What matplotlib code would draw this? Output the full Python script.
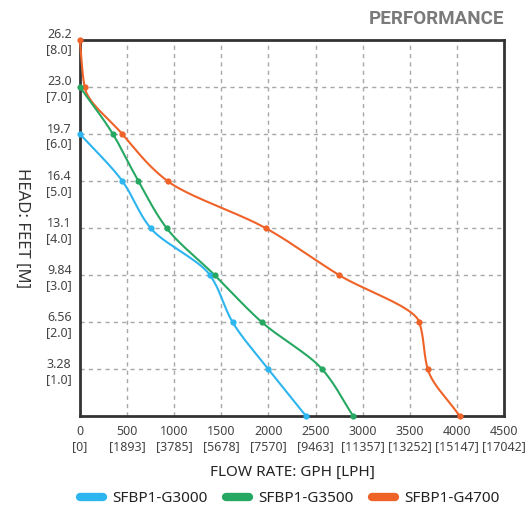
import numpy as np
import matplotlib
matplotlib.use("Agg")
import matplotlib.pyplot as plt
from matplotlib.lines import Line2D

plt.rcParams['font.family'] = ['Noto Sans', 'DejaVu Sans']

# data: flow (GPH) vs head (m)
series_names = ["SFBP1-G3000", "SFBP1-G3500", "SFBP1-G4700"]
colors = ["#2cb5ee", "#27a862", "#ef6228"]
g3000_flow = [0, 450, 750, 1380, 1620, 2000, 2400]
g3000_head = [6.0, 5.0, 4.0, 3.0, 2.0, 1.0, 0.0]
g3500_flow = [0, 350, 620, 920, 1430, 1930, 2570, 2900]
g3500_head = [7.0, 6.0, 5.0, 4.0, 3.0, 2.0, 1.0, 0.0]
g4700_flow = [0, 50, 450, 930, 1970, 2750, 3600, 3690, 4030]
g4700_head = [8.0, 7.0, 6.0, 5.0, 4.0, 3.0, 2.0, 1.0, 0.0]

x_ticks = [0, 500, 1000, 1500, 2000, 2500, 3000, 3500, 4000, 4500]
x_tick_labels = ["0\n[0]", "500\n[1893]", "1000\n[3785]", "1500\n[5678]", "2000\n[7570]",
                 "2500\n[9463]", "3000\n[11357]", "3500\n[13252]", "4000\n[15147]", "4500\n[17042]"]
y_ticks = [1, 2, 3, 4, 5, 6, 7, 8]
y_tick_labels = ["3.28\n[1.0]", "6.56\n[2.0]", "9.84\n[3.0]", "13.1\n[4.0]", "16.4\n[5.0]",
                 "19.7\n[6.0]", "23.0\n[7.0]", "26.2\n[8.0]"]


def pchip_x_of_y(xs, ys, n=40):
    # monotone cubic (Fritsch-Carlson) of flow as a function of head
    y = np.asarray(ys, float)[::-1]
    x = np.asarray(xs, float)[::-1]
    h = np.diff(y)
    d = np.diff(x) / h
    m = np.zeros_like(x)
    for k in range(1, len(x) - 1):
        if d[k - 1] * d[k] <= 0:
            m[k] = 0
        else:
            w1 = 2 * h[k] + h[k - 1]
            w2 = h[k] + 2 * h[k - 1]
            m[k] = (w1 + w2) / (w1 / d[k - 1] + w2 / d[k])
    m[0] = d[0]
    m[-1] = d[-1]
    X, Y = [], []
    for k in range(len(h)):
        t = np.linspace(0, 1, n)
        h00 = 2 * t**3 - 3 * t**2 + 1
        h10 = t**3 - 2 * t**2 + t
        h01 = -2 * t**3 + 3 * t**2
        h11 = t**3 - t**2
        xx = h00 * x[k] + h10 * h[k] * m[k] + h01 * x[k + 1] + h11 * h[k] * m[k + 1]
        yy = y[k] + t * h[k]
        X.append(xx if k == 0 else xx[1:])
        Y.append(yy if k == 0 else yy[1:])
    return np.concatenate(X), np.concatenate(Y)


fig = plt.figure(figsize=(5.29, 5.12), dpi=100)
ax = fig.add_axes([0.151, 0.187, 0.802, 0.735])

data = [(g3000_flow, g3000_head), (g4700_flow, g4700_head), (g3500_flow, g3500_head)]
cols = [colors[0], colors[2], colors[1]]
for (fx, hy), c in zip(data, cols):
    sx, sy = pchip_x_of_y(fx, hy)
    ax.plot(sx, sy, color=c, lw=1.5, zorder=3, clip_on=False, solid_capstyle='round')
    ax.plot(fx, hy, 'o', color=c, ms=4.5, zorder=4, clip_on=False, mec='none')

ax.set_xlim(0, 4500)
ax.set_ylim(0, 8)
ax.set_xticks(x_ticks)
ax.set_xticklabels(x_tick_labels, fontsize=9, color="#444444", linespacing=1.2)
ax.set_yticks(y_ticks)
ax.set_yticklabels(y_tick_labels, fontsize=9, color="#444444", linespacing=1.2)
ax.tick_params(length=0, pad=6)
ax.grid(True, color="#a8a8a8", linestyle=(0, (3, 3)), lw=1)
for s in ax.spines.values():
    s.set_color("#333333")
    s.set_linewidth(2)

ax.set_xlabel("FLOW RATE: GPH [LPH]", fontsize=11, color="#222222", labelpad=9)
ax.set_ylabel("HEAD: FEET [M]", fontsize=12, color="#333333", rotation=-90, va='center')
ax.yaxis.set_label_coords(-0.135, 0.5)

fig.text(0.953, 0.963, "PERFORMANCE", ha='right', va='center', fontsize=13.5,
         fontweight='bold', color="#7a7a7a", family=['Roboto', 'DejaVu Sans'])

handles = [Line2D([0], [0], color=c, lw=6, solid_capstyle='round') for c in colors]
fig.legend(handles, series_names, loc='center', bbox_to_anchor=(0.548, 0.026), ncol=3,
           frameon=False, fontsize=11, handlelength=1.5, columnspacing=1.2,
           handletextpad=0.6, labelcolor="#222222")

fig.savefig("out.png", dpi=100)
